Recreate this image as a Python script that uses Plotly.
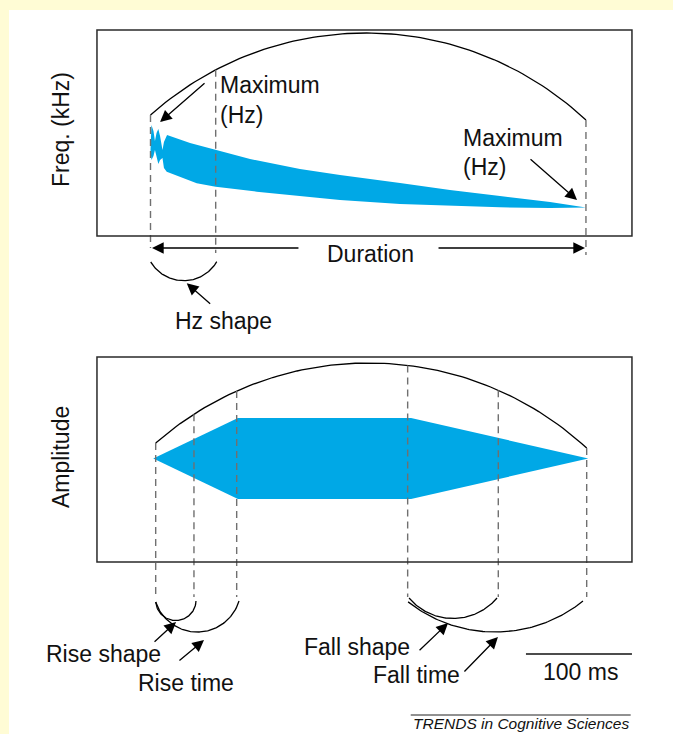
import numpy as np
import plotly.graph_objects as go

W, H = 673, 734

# ---- axis ranges (time in ms, frequency in kHz, relative amplitude) ----
X_RANGE = [-141.98, 492.92]
YF_RANGE = [-24.175, 11.456]
YA_RANGE = [-6.802, 11.321]

# ---- data ----
freq_box_t = [-50.5, 454.2]
freq_box_f = [0.0, 10.0]

sweep_upper_t = [0.0, 0.9, 2.8, 4.2, 5.7, 7.4, 9.0, 11.3, 12.7, 15.6, 37.3, 61.5,
                 93.9, 141.0, 178.8, 235.4, 282.5, 329.7, 376.9, 410.8]
sweep_upper_f = [4.17, 5.39, 5.10, 4.61, 5.00, 5.19, 4.85, 4.17, 4.56, 4.90, 4.51, 4.17,
                 3.74, 3.25, 2.96, 2.57, 2.23, 1.94, 1.65, 1.38]
sweep_lower_t = [0.0, 0.9, 2.8, 4.2, 5.7, 7.4, 9.0, 11.3, 12.7, 15.3, 43.6, 61.5,
                 100.2, 178.8, 235.4, 282.5, 329.7, 376.9, 410.8]
sweep_lower_f = [4.17, 3.69, 3.88, 4.17, 3.79, 3.50, 3.69, 3.79, 3.30, 3.12, 2.56, 2.39,
                 2.15, 1.75, 1.55, 1.46, 1.39, 1.36, 1.38]

freq_arc_t = [0.0, 410.8]
freq_arc_f = [5.874, 5.631]
freq_arc_apex = 9.854

freq_marks_t = [0.0, 61.5, 410.8]
freq_marks_bottom = [-0.583, -0.825, -0.922]

hz_shape_t = [0.2, 62.5]
hz_shape_f = [-1.262, -1.248]
hz_shape_apex = -2.17

amp_box_t = [-50.5, 454.2]
amp_box_a = [-2.556, 2.506]

amp_env_t = [2.6, 82.5, 245.8, 413.0, 245.8, 82.5]
amp_env_a = [0.0, 1.0, 1.0, 0.0, -1.0, -1.0]

amp_arc_t = [4.9, 411.5]
amp_arc_a = [0.383, 0.259]
amp_arc_apex = 2.358

amp_marks_t = [4.9, 41.0, 81.3, 242.6, 328.1, 411.5]
amp_marks_bottom = -3.42

rise_shape_t, rise_shape_a, rise_shape_apex = [4.9, 42.9], [-3.543, -3.519], -4.0
rise_time_t, rise_time_a, rise_time_apex = [4.9, 83.5], [-3.543, -3.52], -4.284
fall_shape_t, fall_shape_a, fall_shape_apex = [243.9, 326.9], [-3.444, -3.444], -3.95
fall_time_t, fall_time_a, fall_time_apex = [243.0, 408.0], [-3.54, -3.52], -4.284

scale_bar_t = [354.2, 454.2]
scale_bar_a = -4.827
footer_rule_t = [245.5, 453.0]
footer_rule_a = -6.333

BLUE = "#00A8E6"
YELLOW = "#FFFCD5"
FONT = "Liberation Sans, Arial, sans-serif"
TXT = "#111111"

SX = W / (X_RANGE[1] - X_RANGE[0])
SYF = H / (YF_RANGE[1] - YF_RANGE[0])
SYA = H / (YA_RANGE[1] - YA_RANGE[0])


def arc(ts, vs, apex, sy, n=90):
    """circular arc (circular on screen) through two end points with given apex value"""
    X0, Y0 = ts[0] * SX, vs[0] * sy
    X1, Y1 = ts[1] * SX, vs[1] * sy
    mx, my = (X0 + X1) / 2, (Y0 + Y1) / 2
    c = np.hypot(X1 - X0, Y1 - Y0) / 2
    s = apex * sy - my
    dx, dy = (X1 - X0) / (2 * c), (Y1 - Y0) / (2 * c)
    nx, ny = -dy, dx
    if s < 0:
        nx, ny = -nx, -ny
    s = abs(s)
    R = (c * c + s * s) / (2 * s)
    u = np.linspace(-1, 1, n)
    h = np.sqrt(R * R - (u * c) ** 2) - (R - s)
    X = mx + u * c * dx + nx * h
    Y = my + u * c * dy + ny * h
    return X / SX, Y / sy


fig = go.Figure()

def line_trace(x, y, yaxis="y", color="#000", width=1.3, dash=None):
    fig.add_trace(go.Scatter(x=x, y=y, mode="lines", yaxis=yaxis, hoverinfo="skip",
                             line=dict(color=color, width=width, dash=dash),
                             showlegend=False))

# ---- frequency panel ----
fig.add_shape(type="rect", xref="x", yref="y", x0=freq_box_t[0], x1=freq_box_t[1],
              y0=freq_box_f[0], y1=freq_box_f[1], line=dict(color="#2a2a2a", width=1.5))
poly_t = sweep_upper_t + sweep_lower_t[::-1]
poly_f = sweep_upper_f + sweep_lower_f[::-1]
fig.add_trace(go.Scatter(x=poly_t, y=poly_f, mode="lines", fill="toself", fillcolor=BLUE,
                         line=dict(width=0, color=BLUE), hoverinfo="skip", showlegend=False))
at, af = arc(freq_arc_t, freq_arc_f, freq_arc_apex, SYF)
line_trace(at, af)
for t, b in zip(freq_marks_t, freq_marks_bottom):
    top = float(np.interp(t, at, af))
    line_trace([t, t], [top, b], color="#707070", width=1.4, dash="7px,5px")
ht, hf = arc(hz_shape_t, hz_shape_f, hz_shape_apex, SYF)
line_trace(ht, hf)

# ---- amplitude panel ----
fig.add_shape(type="rect", xref="x", yref="y2", x0=amp_box_t[0], x1=amp_box_t[1],
              y0=amp_box_a[0], y1=amp_box_a[1], line=dict(color="#2a2a2a", width=1.5))
fig.add_trace(go.Scatter(x=amp_env_t, y=amp_env_a, yaxis="y2", mode="lines", fill="toself",
                         fillcolor=BLUE, line=dict(width=0, color=BLUE), hoverinfo="skip",
                         showlegend=False))
bt, ba = arc(amp_arc_t, amp_arc_a, amp_arc_apex, SYA)
line_trace(bt, ba, yaxis="y2")
for t in amp_marks_t:
    top = float(np.interp(t, bt, ba))
    line_trace([t, t], [top, amp_marks_bottom], yaxis="y2", color="#707070", width=1.4,
               dash="7px,5px")
for ts, vs, ap in [(rise_shape_t, rise_shape_a, rise_shape_apex),
                   (rise_time_t, rise_time_a, rise_time_apex),
                   (fall_shape_t, fall_shape_a, fall_shape_apex),
                   (fall_time_t, fall_time_a, fall_time_apex)]:
    x, y = arc(ts, vs, ap, SYA)
    line_trace(x, y, yaxis="y2")

line_trace(scale_bar_t, [scale_bar_a] * 2, yaxis="y2", color="#111", width=1.3)
line_trace(footer_rule_t, [footer_rule_a] * 2, yaxis="y2", color="#222", width=1.0)

# ---- text ----
def text(x, y, s, yref="y", size=23, xanchor="center", angle=0, italic=False):
    fig.add_annotation(x=x, y=y, xref="x", yref=yref, text=s, showarrow=False,
                       xanchor=xanchor, yanchor="middle", textangle=angle,
                       font=dict(family=FONT, size=size, color=TXT,
                                 style="italic" if italic else "normal"))

def arrow(tail, tip, yref="y"):
    fig.add_annotation(x=tip[0], y=tip[1], ax=tail[0], ay=tail[1], xref="x", yref=yref,
                       axref="x", ayref=yref, text="", showarrow=True, arrowhead=2,
                       arrowsize=1.8, arrowwidth=1.3, arrowcolor="#000", standoff=0)

text(-84.4, 5.146, "Freq. (kHz)", angle=-90)
text(63.7, 7.35, "Maximum", xanchor="left")
text(63.7, 5.85, "(Hz)", xanchor="left")
text(292.9, 4.78, "Maximum", xanchor="left")
text(292.9, 3.37, "(Hz)", xanchor="left")
text(208.0, -0.85, "Duration")
text(69.3, -4.13, "Hz shape")
arrow((52.4, 7.48), (9.0, 5.53))
arrow((357.1, 3.79), (402.4, 1.75))
arrow((141.0, -0.583), (1.4, -0.583))
arrow((270.3, -0.583), (409.9, -0.583))
arrow((57.7, -3.35), (34.2, -2.30))

text(-84.4, 0.037, "Amplitude", yref="y2", angle=-90)
text(-44.8, -4.83, "Rise shape", yref="y2")
text(33.5, -5.55, "Rise time", yref="y2")
text(194.8, -4.65, "Fall shape", yref="y2")
text(250.5, -5.35, "Fall time", yref="y2")
text(405.2, -5.27, "100 ms", yref="y2")
text(453.0, -6.55, "TRENDS in Cognitive Sciences", yref="y2", size=15.5, xanchor="right",
     italic=True)
arrow((2.4, -4.556), (24.1, -4.037), yref="y2")
arrow((25.9, -5.017), (50.5, -4.481), yref="y2")
arrow((252.4, -4.770), (280.7, -4.062), yref="y2")
arrow((294.8, -5.296), (327.8, -4.407), yref="y2")

# ---- background: yellow frame with white sheet ----
fig.add_shape(type="rect", xref="paper", yref="paper", x0=9 / W, x1=1, y0=0, y1=1 - 10 / H,
              fillcolor="white", line=dict(width=0), layer="below")

fig.update_layout(
    width=W, height=H, margin=dict(l=0, r=0, t=0, b=0),
    paper_bgcolor=YELLOW, plot_bgcolor="rgba(0,0,0,0)", showlegend=False,
    xaxis=dict(range=X_RANGE, visible=False, fixedrange=True),
    yaxis=dict(range=YF_RANGE, visible=False, fixedrange=True),
    yaxis2=dict(range=YA_RANGE, visible=False, fixedrange=True, overlaying="y"),
)
fig.write_html(
    "out.html",
    config={"displayModeBar": False},
    post_script="document.body.style.margin='0';document.body.style.overflow='hidden';"
                "document.body.style.background='white';",
)
